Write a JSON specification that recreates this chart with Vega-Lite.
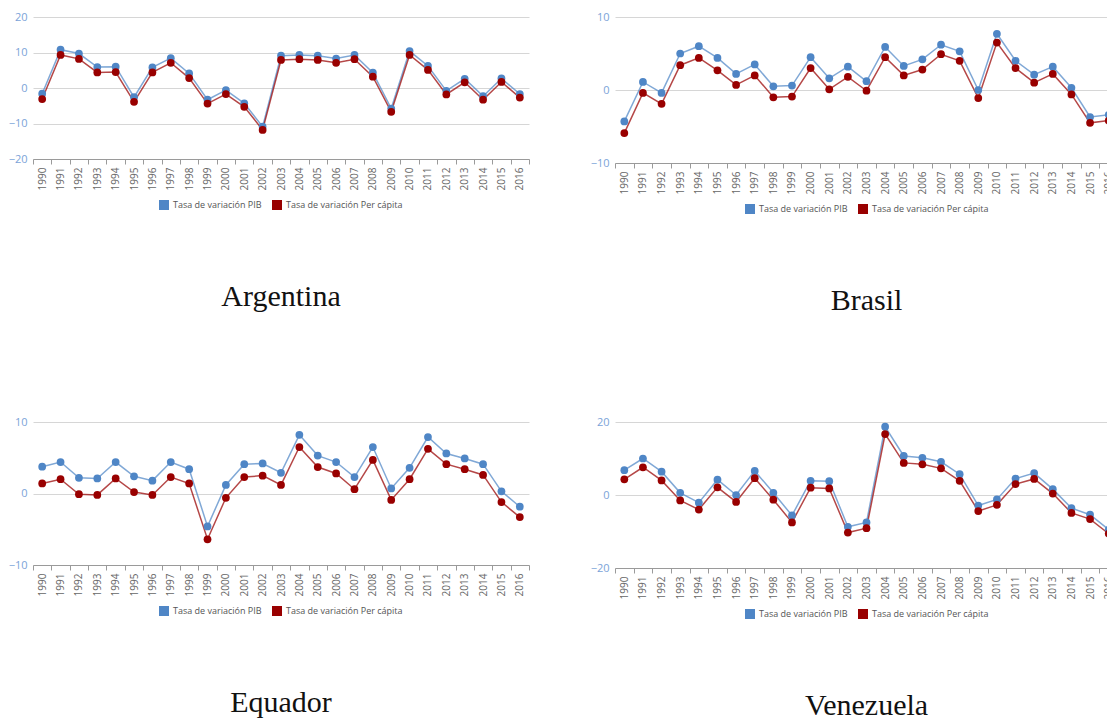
{
  "$schema": "https://vega.github.io/schema/vega-lite/v6.json",
  "padding": {"left": 8, "top": 11, "right": 0, "bottom": 0},
  "background": "white",
  "datasets": {
    "d": [
      {"pais":"Argentina","anio":"1990","serie":"PIB","valor":-1.6},{"pais":"Argentina","anio":"1991","serie":"PIB","valor":10.8},{"pais":"Argentina","anio":"1992","serie":"PIB","valor":9.7},{"pais":"Argentina","anio":"1993","serie":"PIB","valor":5.9},{"pais":"Argentina","anio":"1994","serie":"PIB","valor":6.0},{"pais":"Argentina","anio":"1995","serie":"PIB","valor":-2.6},{"pais":"Argentina","anio":"1996","serie":"PIB","valor":5.8},{"pais":"Argentina","anio":"1997","serie":"PIB","valor":8.4},{"pais":"Argentina","anio":"1998","serie":"PIB","valor":4.1},{"pais":"Argentina","anio":"1999","serie":"PIB","valor":-3.3},{"pais":"Argentina","anio":"2000","serie":"PIB","valor":-0.6},{"pais":"Argentina","anio":"2001","serie":"PIB","valor":-4.3},{"pais":"Argentina","anio":"2002","serie":"PIB","valor":-10.9},{"pais":"Argentina","anio":"2003","serie":"PIB","valor":9.1},{"pais":"Argentina","anio":"2004","serie":"PIB","valor":9.3},{"pais":"Argentina","anio":"2005","serie":"PIB","valor":9.1},{"pais":"Argentina","anio":"2006","serie":"PIB","valor":8.3},{"pais":"Argentina","anio":"2007","serie":"PIB","valor":9.3},{"pais":"Argentina","anio":"2008","serie":"PIB","valor":4.3},{"pais":"Argentina","anio":"2009","serie":"PIB","valor":-5.8},{"pais":"Argentina","anio":"2010","serie":"PIB","valor":10.4},{"pais":"Argentina","anio":"2011","serie":"PIB","valor":6.2},{"pais":"Argentina","anio":"2012","serie":"PIB","valor":-0.8},{"pais":"Argentina","anio":"2013","serie":"PIB","valor":2.6},{"pais":"Argentina","anio":"2014","serie":"PIB","valor":-2.3},{"pais":"Argentina","anio":"2015","serie":"PIB","valor":2.7},{"pais":"Argentina","anio":"2016","serie":"PIB","valor":-1.7},
      {"pais":"Argentina","anio":"1990","serie":"PC","valor":-3.1},{"pais":"Argentina","anio":"1991","serie":"PC","valor":9.3},{"pais":"Argentina","anio":"1992","serie":"PC","valor":8.2},{"pais":"Argentina","anio":"1993","serie":"PC","valor":4.4},{"pais":"Argentina","anio":"1994","serie":"PC","valor":4.5},{"pais":"Argentina","anio":"1995","serie":"PC","valor":-3.9},{"pais":"Argentina","anio":"1996","serie":"PC","valor":4.4},{"pais":"Argentina","anio":"1997","serie":"PC","valor":7.1},{"pais":"Argentina","anio":"1998","serie":"PC","valor":2.8},{"pais":"Argentina","anio":"1999","serie":"PC","valor":-4.4},{"pais":"Argentina","anio":"2000","serie":"PC","valor":-1.7},{"pais":"Argentina","anio":"2001","serie":"PC","valor":-5.3},{"pais":"Argentina","anio":"2002","serie":"PC","valor":-11.8},{"pais":"Argentina","anio":"2003","serie":"PC","valor":7.9},{"pais":"Argentina","anio":"2004","serie":"PC","valor":8.1},{"pais":"Argentina","anio":"2005","serie":"PC","valor":7.9},{"pais":"Argentina","anio":"2006","serie":"PC","valor":7.1},{"pais":"Argentina","anio":"2007","serie":"PC","valor":8.1},{"pais":"Argentina","anio":"2008","serie":"PC","valor":3.2},{"pais":"Argentina","anio":"2009","serie":"PC","valor":-6.7},{"pais":"Argentina","anio":"2010","serie":"PC","valor":9.3},{"pais":"Argentina","anio":"2011","serie":"PC","valor":5.1},{"pais":"Argentina","anio":"2012","serie":"PC","valor":-1.8},{"pais":"Argentina","anio":"2013","serie":"PC","valor":1.6},{"pais":"Argentina","anio":"2014","serie":"PC","valor":-3.3},{"pais":"Argentina","anio":"2015","serie":"PC","valor":1.7},{"pais":"Argentina","anio":"2016","serie":"PC","valor":-2.7},
      {"pais":"Brasil","anio":"1990","serie":"PIB","valor":-4.3},{"pais":"Brasil","anio":"1991","serie":"PIB","valor":1.1},{"pais":"Brasil","anio":"1992","serie":"PIB","valor":-0.4},{"pais":"Brasil","anio":"1993","serie":"PIB","valor":5.0},{"pais":"Brasil","anio":"1994","serie":"PIB","valor":6.0},{"pais":"Brasil","anio":"1995","serie":"PIB","valor":4.4},{"pais":"Brasil","anio":"1996","serie":"PIB","valor":2.2},{"pais":"Brasil","anio":"1997","serie":"PIB","valor":3.5},{"pais":"Brasil","anio":"1998","serie":"PIB","valor":0.5},{"pais":"Brasil","anio":"1999","serie":"PIB","valor":0.6},{"pais":"Brasil","anio":"2000","serie":"PIB","valor":4.5},{"pais":"Brasil","anio":"2001","serie":"PIB","valor":1.6},{"pais":"Brasil","anio":"2002","serie":"PIB","valor":3.2},{"pais":"Brasil","anio":"2003","serie":"PIB","valor":1.2},{"pais":"Brasil","anio":"2004","serie":"PIB","valor":5.9},{"pais":"Brasil","anio":"2005","serie":"PIB","valor":3.3},{"pais":"Brasil","anio":"2006","serie":"PIB","valor":4.2},{"pais":"Brasil","anio":"2007","serie":"PIB","valor":6.2},{"pais":"Brasil","anio":"2008","serie":"PIB","valor":5.3},{"pais":"Brasil","anio":"2009","serie":"PIB","valor":0.0},{"pais":"Brasil","anio":"2010","serie":"PIB","valor":7.7},{"pais":"Brasil","anio":"2011","serie":"PIB","valor":4.0},{"pais":"Brasil","anio":"2012","serie":"PIB","valor":2.1},{"pais":"Brasil","anio":"2013","serie":"PIB","valor":3.2},{"pais":"Brasil","anio":"2014","serie":"PIB","valor":0.3},{"pais":"Brasil","anio":"2015","serie":"PIB","valor":-3.7},{"pais":"Brasil","anio":"2016","serie":"PIB","valor":-3.4},
      {"pais":"Brasil","anio":"1990","serie":"PC","valor":-5.9},{"pais":"Brasil","anio":"1991","serie":"PC","valor":-0.4},{"pais":"Brasil","anio":"1992","serie":"PC","valor":-1.9},{"pais":"Brasil","anio":"1993","serie":"PC","valor":3.4},{"pais":"Brasil","anio":"1994","serie":"PC","valor":4.4},{"pais":"Brasil","anio":"1995","serie":"PC","valor":2.7},{"pais":"Brasil","anio":"1996","serie":"PC","valor":0.7},{"pais":"Brasil","anio":"1997","serie":"PC","valor":2.0},{"pais":"Brasil","anio":"1998","serie":"PC","valor":-1.0},{"pais":"Brasil","anio":"1999","serie":"PC","valor":-0.9},{"pais":"Brasil","anio":"2000","serie":"PC","valor":3.0},{"pais":"Brasil","anio":"2001","serie":"PC","valor":0.1},{"pais":"Brasil","anio":"2002","serie":"PC","valor":1.8},{"pais":"Brasil","anio":"2003","serie":"PC","valor":-0.1},{"pais":"Brasil","anio":"2004","serie":"PC","valor":4.5},{"pais":"Brasil","anio":"2005","serie":"PC","valor":2.0},{"pais":"Brasil","anio":"2006","serie":"PC","valor":2.8},{"pais":"Brasil","anio":"2007","serie":"PC","valor":4.9},{"pais":"Brasil","anio":"2008","serie":"PC","valor":4.0},{"pais":"Brasil","anio":"2009","serie":"PC","valor":-1.1},{"pais":"Brasil","anio":"2010","serie":"PC","valor":6.5},{"pais":"Brasil","anio":"2011","serie":"PC","valor":3.0},{"pais":"Brasil","anio":"2012","serie":"PC","valor":1.0},{"pais":"Brasil","anio":"2013","serie":"PC","valor":2.2},{"pais":"Brasil","anio":"2014","serie":"PC","valor":-0.6},{"pais":"Brasil","anio":"2015","serie":"PC","valor":-4.5},{"pais":"Brasil","anio":"2016","serie":"PC","valor":-4.2},
      {"pais":"Equador","anio":"1990","serie":"PIB","valor":3.75},{"pais":"Equador","anio":"1991","serie":"PIB","valor":4.4},{"pais":"Equador","anio":"1992","serie":"PIB","valor":2.2},{"pais":"Equador","anio":"1993","serie":"PIB","valor":2.1},{"pais":"Equador","anio":"1994","serie":"PIB","valor":4.4},{"pais":"Equador","anio":"1995","serie":"PIB","valor":2.4},{"pais":"Equador","anio":"1996","serie":"PIB","valor":1.8},{"pais":"Equador","anio":"1997","serie":"PIB","valor":4.4},{"pais":"Equador","anio":"1998","serie":"PIB","valor":3.4},{"pais":"Equador","anio":"1999","serie":"PIB","valor":-4.6},{"pais":"Equador","anio":"2000","serie":"PIB","valor":1.2},{"pais":"Equador","anio":"2001","serie":"PIB","valor":4.1},{"pais":"Equador","anio":"2002","serie":"PIB","valor":4.2},{"pais":"Equador","anio":"2003","serie":"PIB","valor":2.9},{"pais":"Equador","anio":"2004","serie":"PIB","valor":8.2},{"pais":"Equador","anio":"2005","serie":"PIB","valor":5.3},{"pais":"Equador","anio":"2006","serie":"PIB","valor":4.4},{"pais":"Equador","anio":"2007","serie":"PIB","valor":2.3},{"pais":"Equador","anio":"2008","serie":"PIB","valor":6.5},{"pais":"Equador","anio":"2009","serie":"PIB","valor":0.7},{"pais":"Equador","anio":"2010","serie":"PIB","valor":3.6},{"pais":"Equador","anio":"2011","serie":"PIB","valor":7.9},{"pais":"Equador","anio":"2012","serie":"PIB","valor":5.6},{"pais":"Equador","anio":"2013","serie":"PIB","valor":4.9},{"pais":"Equador","anio":"2014","serie":"PIB","valor":4.1},{"pais":"Equador","anio":"2015","serie":"PIB","valor":0.3},{"pais":"Equador","anio":"2016","serie":"PIB","valor":-1.85},
      {"pais":"Equador","anio":"1990","serie":"PC","valor":1.4},{"pais":"Equador","anio":"1991","serie":"PC","valor":2.0},{"pais":"Equador","anio":"1992","serie":"PC","valor":-0.1},{"pais":"Equador","anio":"1993","serie":"PC","valor":-0.2},{"pais":"Equador","anio":"1994","serie":"PC","valor":2.1},{"pais":"Equador","anio":"1995","serie":"PC","valor":0.2},{"pais":"Equador","anio":"1996","serie":"PC","valor":-0.2},{"pais":"Equador","anio":"1997","serie":"PC","valor":2.3},{"pais":"Equador","anio":"1998","serie":"PC","valor":1.4},{"pais":"Equador","anio":"1999","serie":"PC","valor":-6.4},{"pais":"Equador","anio":"2000","serie":"PC","valor":-0.6},{"pais":"Equador","anio":"2001","serie":"PC","valor":2.3},{"pais":"Equador","anio":"2002","serie":"PC","valor":2.5},{"pais":"Equador","anio":"2003","serie":"PC","valor":1.2},{"pais":"Equador","anio":"2004","serie":"PC","valor":6.5},{"pais":"Equador","anio":"2005","serie":"PC","valor":3.7},{"pais":"Equador","anio":"2006","serie":"PC","valor":2.8},{"pais":"Equador","anio":"2007","serie":"PC","valor":0.6},{"pais":"Equador","anio":"2008","serie":"PC","valor":4.7},{"pais":"Equador","anio":"2009","serie":"PC","valor":-0.9},{"pais":"Equador","anio":"2010","serie":"PC","valor":2.0},{"pais":"Equador","anio":"2011","serie":"PC","valor":6.25},{"pais":"Equador","anio":"2012","serie":"PC","valor":4.1},{"pais":"Equador","anio":"2013","serie":"PC","valor":3.4},{"pais":"Equador","anio":"2014","serie":"PC","valor":2.6},{"pais":"Equador","anio":"2015","serie":"PC","valor":-1.2},{"pais":"Equador","anio":"2016","serie":"PC","valor":-3.3},
      {"pais":"Venezuela","anio":"1990","serie":"PIB","valor":6.8},{"pais":"Venezuela","anio":"1991","serie":"PIB","valor":10.0},{"pais":"Venezuela","anio":"1992","serie":"PIB","valor":6.4},{"pais":"Venezuela","anio":"1993","serie":"PIB","valor":0.6},{"pais":"Venezuela","anio":"1994","serie":"PIB","valor":-2.1},{"pais":"Venezuela","anio":"1995","serie":"PIB","valor":4.2},{"pais":"Venezuela","anio":"1996","serie":"PIB","valor":0.0},{"pais":"Venezuela","anio":"1997","serie":"PIB","valor":6.6},{"pais":"Venezuela","anio":"1998","serie":"PIB","valor":0.6},{"pais":"Venezuela","anio":"1999","serie":"PIB","valor":-5.6},{"pais":"Venezuela","anio":"2000","serie":"PIB","valor":3.9},{"pais":"Venezuela","anio":"2001","serie":"PIB","valor":3.8},{"pais":"Venezuela","anio":"2002","serie":"PIB","valor":-8.7},{"pais":"Venezuela","anio":"2003","serie":"PIB","valor":-7.5},{"pais":"Venezuela","anio":"2004","serie":"PIB","valor":18.7},{"pais":"Venezuela","anio":"2005","serie":"PIB","valor":10.7},{"pais":"Venezuela","anio":"2006","serie":"PIB","valor":10.2},{"pais":"Venezuela","anio":"2007","serie":"PIB","valor":9.1},{"pais":"Venezuela","anio":"2008","serie":"PIB","valor":5.7},{"pais":"Venezuela","anio":"2009","serie":"PIB","valor":-2.9},{"pais":"Venezuela","anio":"2010","serie":"PIB","valor":-1.2},{"pais":"Venezuela","anio":"2011","serie":"PIB","valor":4.5},{"pais":"Venezuela","anio":"2012","serie":"PIB","valor":6.0},{"pais":"Venezuela","anio":"2013","serie":"PIB","valor":1.6},{"pais":"Venezuela","anio":"2014","serie":"PIB","valor":-3.6},{"pais":"Venezuela","anio":"2015","serie":"PIB","valor":-5.4},{"pais":"Venezuela","anio":"2016","serie":"PIB","valor":-9.5},
      {"pais":"Venezuela","anio":"1990","serie":"PC","valor":4.3},{"pais":"Venezuela","anio":"1991","serie":"PC","valor":7.6},{"pais":"Venezuela","anio":"1992","serie":"PC","valor":4.0},{"pais":"Venezuela","anio":"1993","serie":"PC","valor":-1.5},{"pais":"Venezuela","anio":"1994","serie":"PC","valor":-4.0},{"pais":"Venezuela","anio":"1995","serie":"PC","valor":2.1},{"pais":"Venezuela","anio":"1996","serie":"PC","valor":-1.9},{"pais":"Venezuela","anio":"1997","serie":"PC","valor":4.6},{"pais":"Venezuela","anio":"1998","serie":"PC","valor":-1.3},{"pais":"Venezuela","anio":"1999","serie":"PC","valor":-7.5},{"pais":"Venezuela","anio":"2000","serie":"PC","valor":2.0},{"pais":"Venezuela","anio":"2001","serie":"PC","valor":1.8},{"pais":"Venezuela","anio":"2002","serie":"PC","valor":-10.3},{"pais":"Venezuela","anio":"2003","serie":"PC","valor":-9.1},{"pais":"Venezuela","anio":"2004","serie":"PC","valor":16.7},{"pais":"Venezuela","anio":"2005","serie":"PC","valor":8.8},{"pais":"Venezuela","anio":"2006","serie":"PC","valor":8.4},{"pais":"Venezuela","anio":"2007","serie":"PC","valor":7.3},{"pais":"Venezuela","anio":"2008","serie":"PC","valor":3.9},{"pais":"Venezuela","anio":"2009","serie":"PC","valor":-4.4},{"pais":"Venezuela","anio":"2010","serie":"PC","valor":-2.7},{"pais":"Venezuela","anio":"2011","serie":"PC","valor":3.0},{"pais":"Venezuela","anio":"2012","serie":"PC","valor":4.4},{"pais":"Venezuela","anio":"2013","serie":"PC","valor":0.4},{"pais":"Venezuela","anio":"2014","serie":"PC","valor":-4.9},{"pais":"Venezuela","anio":"2015","serie":"PC","valor":-6.6},{"pais":"Venezuela","anio":"2016","serie":"PC","valor":-10.6}
    ]
  },
  "config": {
    "view": {"stroke": null},
    "font": "Open Sans",
    "axisX": {"title": null, "labelAngle": -90, "labelFont": "Open Sans", "labelFontSize": 10, "labelColor": "#666666", "labelPadding": 3, "labelOverlap": false, "domainColor": "#9a9a9a", "tickColor": "#9a9a9a", "tickSize": 5, "grid": false, "tickBand": "extent"},
    "axisY": {"title": null, "domain": false, "ticks": false, "labelFont": "Open Sans", "labelFontSize": 11, "labelColor": "#7ba3d8", "labelPadding": 6, "grid": true, "gridColor": "#d6d6d6"},
    "legend": {"orient": "bottom", "direction": "horizontal", "title": null, "symbolType": "square", "symbolSize": 100, "symbolStrokeWidth": 0, "symbolOpacity": 1, "labelFont": "Open Sans", "labelFontSize": 9, "labelColor": "#555555", "columnPadding": 10, "offset": 10, "layout": {"bottom": {"anchor": "middle"}}},
    "title": {"orient": "bottom", "font": "Liberation Serif", "fontSize": 30, "fontWeight": "normal", "color": "#111111", "offset": 72, "anchor": "middle"}
  },
  "resolve": {"scale": {"color": "independent"}, "legend": {"color": "independent"}},
  "spacing": 100,
  "vconcat": [
    {
      "spacing": 60,
      "resolve": {"scale": {"color": "independent"}, "legend": {"color": "independent"}},
      "hconcat": [
        {
          "width": 496, "height": 142,
          "title": "Argentina",
          "data": {"name": "d"},
          "transform": [{"filter": "datum.pais == 'Argentina'"}],
          "encoding": {
            "x": {"field": "anio", "type": "ordinal", "scale": {"type": "band", "paddingInner": 0, "paddingOuter": 0}},
            "y": {"field": "valor", "type": "quantitative", "scale": {"domain": [-20, 20], "nice": false, "zero": false}, "axis": {"values": [-20, -10, 0, 10, 20]}},
            "color": {"field": "serie", "type": "nominal", "scale": {"domain": ["PIB", "PC"], "range": ["#4f86c6", "#990000"]}, "legend": {"symbolType": "square", "symbolOpacity": 1, "labelExpr": "datum.label == 'PIB' ? 'Tasa de variación PIB' : 'Tasa de variación Per cápita'"}}
          },
          "layer": [
            {"mark": {"type": "line", "strokeWidth": 1.5, "opacity": 0.72}},
            {"mark": {"type": "point", "filled": true, "size": 60, "opacity": 1}}
          ]
        },
        {
          "width": 503, "height": 146,
          "title": "Brasil",
          "data": {"name": "d"},
          "transform": [{"filter": "datum.pais == 'Brasil'"}],
          "encoding": {
            "x": {"field": "anio", "type": "ordinal", "scale": {"type": "band", "paddingInner": 0, "paddingOuter": 0}},
            "y": {"field": "valor", "type": "quantitative", "scale": {"domain": [-10, 10], "nice": false, "zero": false}, "axis": {"values": [-10, 0, 10]}},
            "color": {"field": "serie", "type": "nominal", "scale": {"domain": ["PIB", "PC"], "range": ["#4f86c6", "#990000"]}, "legend": {"symbolType": "square", "symbolOpacity": 1, "labelExpr": "datum.label == 'PIB' ? 'Tasa de variación PIB' : 'Tasa de variación Per cápita'"}}
          },
          "layer": [
            {"mark": {"type": "line", "strokeWidth": 1.5, "opacity": 0.72}},
            {"mark": {"type": "point", "filled": true, "size": 60, "opacity": 1}}
          ]
        }
      ]
    },
    {
      "spacing": 60,
      "resolve": {"scale": {"color": "independent"}, "legend": {"color": "independent"}},
      "hconcat": [
        {
          "width": 496, "height": 143,
          "title": "Equador",
          "data": {"name": "d"},
          "transform": [{"filter": "datum.pais == 'Equador'"}],
          "encoding": {
            "x": {"field": "anio", "type": "ordinal", "scale": {"type": "band", "paddingInner": 0, "paddingOuter": 0}},
            "y": {"field": "valor", "type": "quantitative", "scale": {"domain": [-10, 10], "nice": false, "zero": false}, "axis": {"values": [-10, 0, 10]}},
            "color": {"field": "serie", "type": "nominal", "scale": {"domain": ["PIB", "PC"], "range": ["#4f86c6", "#990000"]}, "legend": {"symbolType": "square", "symbolOpacity": 1, "labelExpr": "datum.label == 'PIB' ? 'Tasa de variación PIB' : 'Tasa de variación Per cápita'"}}
          },
          "layer": [
            {"mark": {"type": "line", "strokeWidth": 1.5, "opacity": 0.72}},
            {"mark": {"type": "point", "filled": true, "size": 60, "opacity": 1}}
          ]
        },
        {
          "width": 503, "height": 146,
          "title": "Venezuela",
          "data": {"name": "d"},
          "transform": [{"filter": "datum.pais == 'Venezuela'"}],
          "encoding": {
            "x": {"field": "anio", "type": "ordinal", "scale": {"type": "band", "paddingInner": 0, "paddingOuter": 0}},
            "y": {"field": "valor", "type": "quantitative", "scale": {"domain": [-20, 20], "nice": false, "zero": false}, "axis": {"values": [-20, 0, 20]}},
            "color": {"field": "serie", "type": "nominal", "scale": {"domain": ["PIB", "PC"], "range": ["#4f86c6", "#990000"]}, "legend": {"symbolType": "square", "symbolOpacity": 1, "labelExpr": "datum.label == 'PIB' ? 'Tasa de variación PIB' : 'Tasa de variación Per cápita'"}}
          },
          "layer": [
            {"mark": {"type": "line", "strokeWidth": 1.5, "opacity": 0.72}},
            {"mark": {"type": "point", "filled": true, "size": 60, "opacity": 1}}
          ]
        }
      ]
    }
  ]
}
